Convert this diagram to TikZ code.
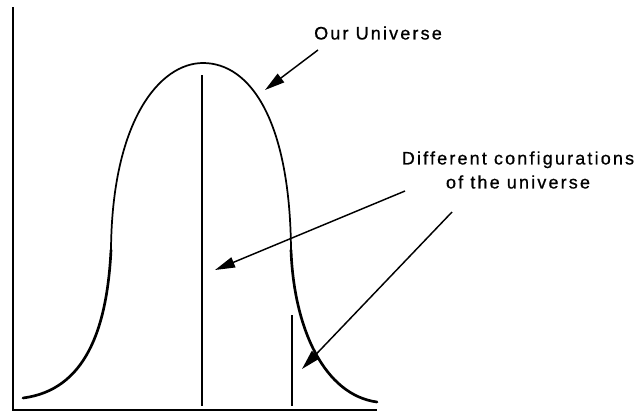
\documentclass[tikz,border=0pt]{standalone}
\usepackage{fontspec}
\setmainfont{Liberation Sans}
\newfontfamily\labelfont[LetterSpace=12, FakeBold=0.8]{Liberation Sans}
\usetikzlibrary{arrows.meta}

\begin{document}
\begin{tikzpicture}[x=0.75pt, y=-0.75pt,
    axisline/.style={line width=1.2pt},
    pointer/.style={line width=1.1pt, -{Triangle[length=15pt, width=8pt]}},
    caption/.style={font=\labelfont\fontsize{13.5}{18}\selectfont,
                    align=center, inner sep=0pt}]
        \useasboundingbox (0,0) rectangle (642,412);
        % Axes
        \coordinate (ytop) at (13,7);
        \coordinate (origin) at (13,410);
        \coordinate (xend) at (377,410);
        \draw[axisline] (ytop) -- (origin) -- (xend);
        % Bell curve of configurations
        \draw[line width=2pt, line cap=round]
          (23,398) .. controls (85,390) and (107,330) .. (111,250);   % left tail
        \draw[line width=1.3pt]
          (111,250) .. controls (112,120) and (160,63) .. (203,63)    % top of curve
          .. controls (250,63) and (290,120) .. (291,250);
        \draw[line width=2pt, line cap=round]
          (291,250) .. controls (294,330) and (325,395) .. (377,402); % right tail
        % Sample configurations
        \coordinate (peaktop) at (202,75);
        \coordinate (peakfoot) at (202,406);
        \coordinate (tailtop) at (292,315);
        \coordinate (tailfoot) at (292,406);
        \draw[axisline] (peaktop) -- (peakfoot);
        \draw[axisline] (tailtop) -- (tailfoot);
        % Labels
        \node[caption] (ourlabel) at (378,33) {Our Universe};
        \node[caption] (difflabel) at (518,170)
          {Different configurations\\of the universe};
        % Pointers
        \coordinate (ourtail) at (318,50);
        \coordinate (ourtip) at (265,90);
        \coordinate (difftailA) at (405,191);
        \coordinate (difftipA) at (215,270);
        \coordinate (difftailB) at (452,212);
        \coordinate (difftipB) at (302,369);
        \draw[pointer] (ourtail) -- (ourtip);
        \draw[pointer] (difftailA) -- (difftipA);
        \draw[pointer] (difftailB) -- (difftipB);
      \end{tikzpicture}
\end{document}
